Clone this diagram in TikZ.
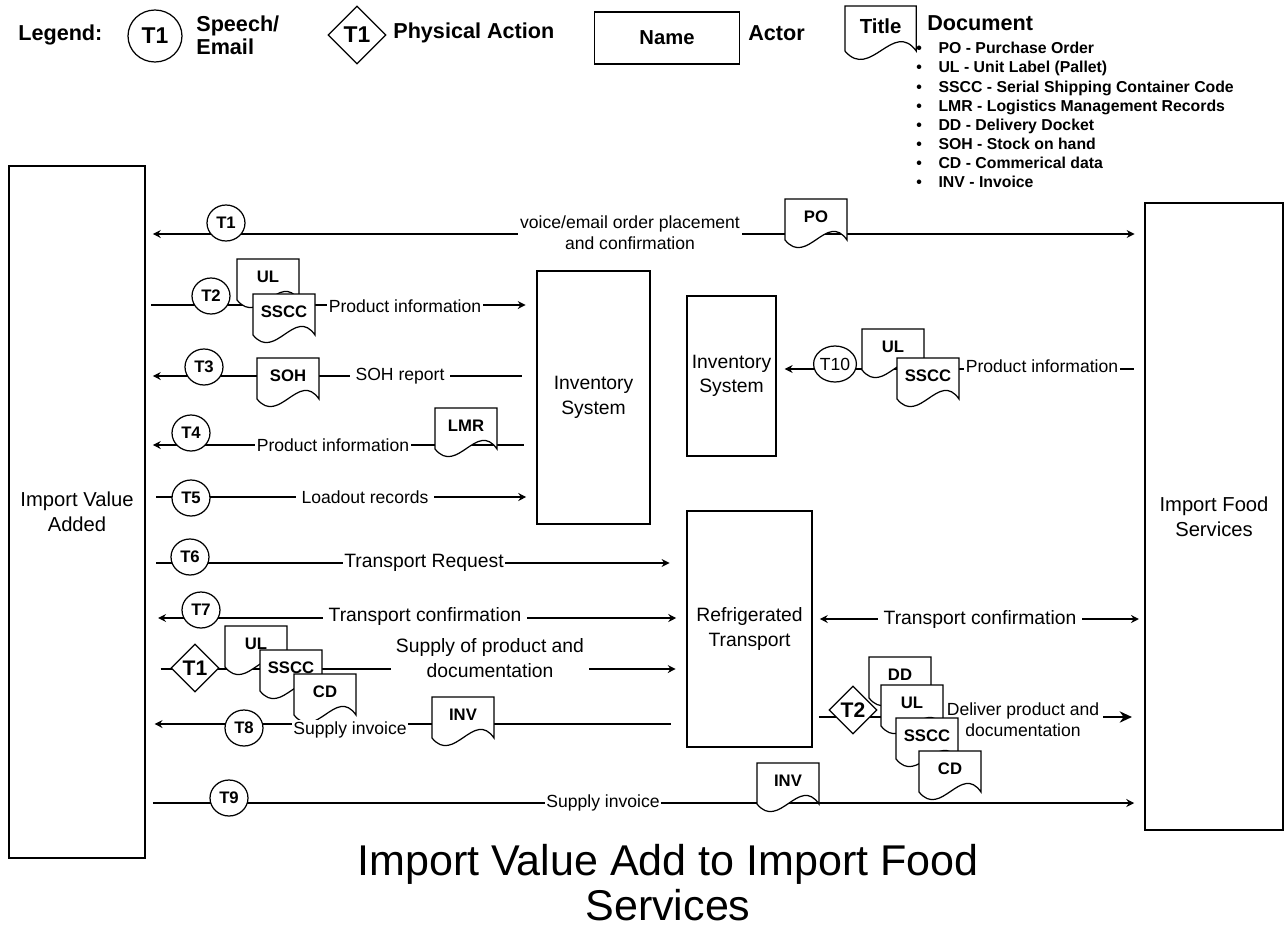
\documentclass[tikz,border=0pt]{standalone}
\usepackage{fontspec}
\setmainfont{Liberation Sans}
\usetikzlibrary{arrows.meta,shapes.geometric}
\tikzset{
  actor/.style   = {rectangle, draw, line width=0.9pt, align=center, inner sep=2pt,
                    font=\fontsize{11.5}{14}\selectfont},
  tc/.style      = {ellipse, draw, fill=white, line width=0.7pt, inner sep=0pt,
                    minimum width=0.76cm, minimum height=0.72cm,
                    font=\bfseries\fontsize{9.5}{11}\selectfont},
  ta/.style      = {diamond, aspect=1, draw, fill=white, line width=0.7pt, inner sep=0pt,
                    minimum width=0.96cm, minimum height=0.96cm,
                    font=\bfseries\fontsize{12}{14}\selectfont},
  fl/.style      = {line width=0.7pt},
  lab/.style     = {fill=white, inner sep=1pt, align=center, font=\fontsize{10}{12}\selectfont},
  labl/.style    = {lab, inner xsep=3pt, font=\fontsize{11}{14}\selectfont},
  docline/.style = {draw, fill=white, line width=0.7pt},
  doclab/.style  = {inner sep=0pt, font=\bfseries\fontsize{9.5}{11}\selectfont},
  leg/.style     = {inner sep=0pt, align=left, font=\bfseries\fontsize{12.3}{13}\selectfont},
}
\newcommand{\docnode}[5][]{%
  \begin{scope}[shift={(#3,#4)}, #1]
    \filldraw[docline] (0,0) -- (62,0) -- (62,41) .. controls (42,12) and (22,68) .. (0,41) -- cycle;
    \node[doclab] (#2) at (31,18) {#5};
  \end{scope}}

\begin{document}
\begin{tikzpicture}[x=0.02cm, y=-0.02cm, >={Stealth[length=4.5pt,width=4.5pt]}]
  \useasboundingbox (0,0) rectangle (1287,933);

  % legend
  \node[leg, anchor=west] (legend) at (18,35) {Legend:};
  \node[tc, minimum width=1.08cm, minimum height=1.04cm,
        font=\bfseries\fontsize{13}{15}\selectfont] (lgc) at (155,36) {T1};
  \node[leg, anchor=west] (lgct) at (196,35) {Speech/\\Email};
  \node[ta, minimum width=1.16cm, minimum height=1.16cm,
        font=\bfseries\fontsize{13}{15}\selectfont] (lgd) at (357,35) {T1};
  \node[leg, anchor=west] (lgdt) at (393,33) {Physical Action};
  \node[actor, minimum width=2.9cm, minimum height=1.04cm,
        font=\bfseries\fontsize{11.5}{14}\selectfont] (lgn) at (667,38) {Name};
  \node[leg, anchor=west] (lgnt) at (748,33) {Actor};
  \docnode[xscale=1.15, yscale=1.1]{lgdoc}{845}{6}{\fontsize{11.6}{13}\selectfont Title}
  \node[leg, anchor=west] (lgdoct) at (927,23) {Document};
  \node[anchor=north west, inner sep=0pt, align=left,
        font=\bfseries\fontsize{9}{10.9}\selectfont] (lglist) at (916,42)
    {\textbullet\hspace{9.5pt}PO - Purchase Order\\
     \textbullet\hspace{9.5pt}UL - Unit Label (Pallet)\\
     \textbullet\hspace{9.5pt}SSCC - Serial Shipping Container Code\\
     \textbullet\hspace{9.5pt}LMR - Logistics Management Records\\
     \textbullet\hspace{9.5pt}DD - Delivery Docket\\
     \textbullet\hspace{9.5pt}SOH - Stock on hand\\
     \textbullet\hspace{9.5pt}CD - Commerical data\\
     \textbullet\hspace{9.5pt}INV - Invoice};

  % actors
  \node[actor, minimum width=2.72cm, minimum height=13.84cm] (iva) at (77,512) {Import Value\\Added};
  \node[actor, minimum width=2.76cm, minimum height=12.54cm] (ifs) at (1214,516.5) {Import Food\\Services};
  \node[actor, minimum width=2.26cm, minimum height=5.06cm,
        font=\fontsize{11}{14}\selectfont] (inv1) at (593.5,397.5) {Inventory\\System};
  \node[actor, minimum width=1.78cm, minimum height=3.2cm,
        font=\fontsize{11}{14}\selectfont] (inv2) at (731.5,376) {Inventory\\System};
  \node[actor, minimum width=2.5cm, minimum height=4.72cm,
        font=\fontsize{11}{14}\selectfont] (rt) at (749.5,629) {Refrigerated\\Transport};

  \foreach \n/\y in {T1/234, T2/305, T3/376, T4/445, T5/497, T6/563, T7/618,
                     P1/669, T8/724, T9/803, T10/369, TC/619, P2/717}
    \coordinate (r\n) at (0,\y);

  % flows
  \draw[fl, <->, shorten <=4pt, shorten >=5.5pt] (iva.east |- rT1) -- (ifs.west |- rT1);
  \draw[fl, ->, shorten <=3pt, shorten >=6pt] (iva.east |- rT2) -- (inv1.west |- rT2);
  \draw[fl, <-, shorten <=4pt, shorten >=8pt] (iva.east |- rT3) -- (inv1.west |- rT3);
  \draw[fl, <-, shorten <=4pt, shorten >=7pt] (iva.east |- rT4) -- (inv1.west |- rT4);
  \draw[fl, ->, shorten <=6pt, shorten >=5.7pt] (iva.east |- rT5) -- (inv1.west |- rT5);
  \draw[fl, ->, shorten <=6pt, shorten >=9.5pt] (iva.east |- rT6) -- (rt.west |- rT6);
  \draw[fl, <->, shorten <=7pt, shorten >=5.7pt] (iva.east |- rT7) -- (rt.west |- rT7);
  \draw[fl, ->, shorten <=8.5pt, shorten >=6pt] (iva.east |- rP1) -- (rt.west |- rP1);
  \draw[fl, <-, shorten <=5pt, shorten >=8.5pt] (iva.east |- rT8) -- (rt.west |- rT8);
  \draw[fl, ->, shorten <=4pt, shorten >=5.7pt] (iva.east |- rT9) -- (ifs.west |- rT9);
  \draw[fl, <-, shorten <=4.5pt, shorten >=6pt] (inv2.east |- rT10) -- (ifs.west |- rT10);
  \draw[fl, <->, shorten <=4pt, shorten >=3pt] (rt.east |- rTC) -- (ifs.west |- rTC);
  \draw[fl, -{Stealth[length=7pt,width=6.5pt]}, shorten <=3.5pt, shorten >=7pt]
    (rt.east |- rP2) -- (ifs.west |- rP2);

  % T1
  \node[tc] (t1) at (226,223) {T1};
  \node[lab] (l1) at (630,233) {voice/email order placement\\and confirmation};
  \docnode{po}{785}{199}{PO}
  % T2
  \node[tc] (t2) at (211,296) {T2};
  \docnode{ul2}{237}{259}{UL}
  \docnode{sscc2}{253}{294}{SSCC}
  \node[lab] (l2) at (405,306) {Product information};
  % T3
  \node[tc] (t3) at (204,367) {T3};
  \docnode{soh}{257}{358}{SOH}
  \node[lab, inner xsep=3pt] (l3) at (400,376) {SOH report};
  % T4
  \node[tc] (t4) at (191,433) {T4};
  \node[lab] (l4) at (333,445) {Product information};
  \docnode{lmr}{435}{408}{LMR}
  % T5
  \node[tc] (t5) at (191,498) {T5};
  \node[lab, inner xsep=3pt] (l5) at (365,497) {Loadout records};
  % T6, T7
  \node[tc] (t6) at (190,557) {T6};
  \node[labl, inner xsep=1pt] (l6) at (424,563) {Transport Request};
  \node[tc] (t7) at (201,610) {T7};
  \node[labl] (l7) at (425,616) {Transport confirmation};
  % physical T1
  \node[ta] (p1) at (195,668) {T1};
  \docnode{ul8}{225}{626}{UL}
  \docnode{sscc8}{260}{650}{SSCC}
  \docnode{cd8}{294}{674}{CD}
  \node[labl] (l8) at (490,658) {Supply of product and\\documentation};
  % T8, T9
  \node[tc] (t8) at (244,728) {T8};
  \node[lab] (l9) at (350,730) {Supply invoice};
  \docnode{inv8}{432}{697}{INV}
  \node[tc] (t9) at (229,798) {T9};
  \node[lab] (l10) at (603,803) {Supply invoice};
  \docnode{inv9}{757}{763}{INV}
  % T10
  \node[tc, font=\fontsize{10}{12}\selectfont] (t10) at (835,364) {T10};
  \docnode{ul10}{862}{329}{UL}
  \docnode{sscc10}{897}{358}{SSCC}
  \node[lab] (l11) at (1042,366) {Product information};
  % right side
  \node[labl] (l12) at (980,619) {Transport confirmation};
  \node[lab, inner xsep=2pt] (l13) at (1023,720) {Deliver product and\\documentation};
  \node[ta] (p2) at (853,710) {T2};
  \docnode{dd}{869}{657}{DD}
  \docnode{ulr}{881}{685}{UL}
  \docnode{ssccr}{896}{718}{SSCC}
  \docnode{cdr}{919}{751}{CD}

  \node[align=center, font=\fontsize{24.5}{25.5}\selectfont] (title) at (668,883)
    {Import Value Add to Import Food\\Services};
\end{tikzpicture}
\end{document}
